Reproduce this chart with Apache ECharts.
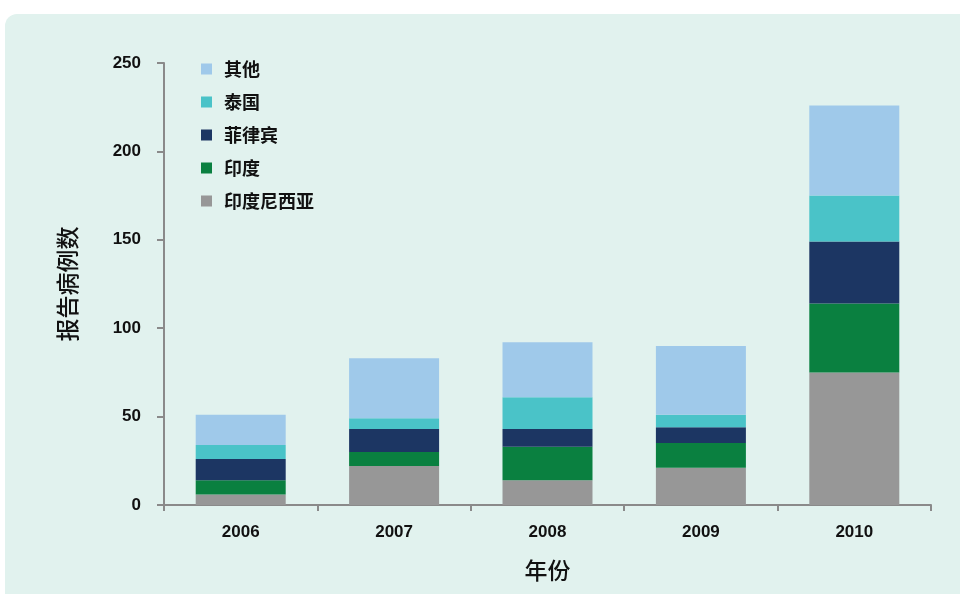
<!DOCTYPE html>
<html>
<head>
<meta charset="utf-8">
<script src="https://cdn.jsdelivr.net/npm/echarts@6/dist/echarts.min.js"></script>
<style>
html,body{margin:0;padding:0;background:#ffffff;}
#chart{width:960px;height:594px;}
</style>
</head>
<body>
<div id="chart"></div>
<script>
var categories = ['2006', '2007', '2008', '2009', '2010'];
var indonesia = [6, 22, 14, 21, 75];
var india = [8, 8, 19, 14, 39];
var philippines = [12, 13, 10, 9, 35];
var thailand = [8, 6, 18, 7, 26];
var others = [17, 34, 31, 39, 51];
var yTicks = [0, 50, 100, 150, 200, 250];

var cjk = '"Noto Sans CJK SC", "Liberation Sans", sans-serif';
var num = '"Liberation Sans", Arial, sans-serif';

var chart = echarts.init(document.getElementById('chart'), null, {renderer: 'canvas'});

function mk(name, data, color) {
  return {
    name: name, type: 'bar', stack: 'total', data: data,
    barWidth: 90,
    itemStyle: {color: color},
    emphasis: {disabled: true}
  };
}

chart.setOption({
  animation: false,
  backgroundColor: '#ffffff',
  graphic: [{
    type: 'rect', z: -10, silent: true,
    shape: {x: 5, y: 14, width: 960, height: 600, r: [12, 0, 0, 0]},
    style: {fill: '#e1f2ee'}
  }],
  grid: {left: 164, right: 29, top: 63, bottom: 89, containLabel: false},
  legend: {
    orient: 'vertical', left: 196, top: 55,
    data: ['其他', '泰国', '菲律宾', '印度', '印度尼西亚'],
    icon: 'rect', itemWidth: 11, itemHeight: 11, itemGap: 15,
    textStyle: {fontFamily: cjk, fontSize: 18, fontWeight: 'bold', color: '#111', lineHeight: 18, padding: [0, 0, 0, 7]},
    selectedMode: false
  },
  xAxis: {
    type: 'category', data: categories,
    name: '年份', nameLocation: 'middle', nameGap: 54,
    nameTextStyle: {fontFamily: cjk, fontSize: 23, fontWeight: 500, color: '#111'},
    axisLine: {lineStyle: {color: '#8a8a8a', width: 2}},
    axisTick: {show: true, length: 6, lineStyle: {color: '#8a8a8a', width: 2}},
    axisLabel: {fontFamily: num, fontSize: 17, fontWeight: 'bold', color: '#111', margin: 19}
  },
  yAxis: {
    type: 'value', min: 0, max: 250, interval: 50,
    name: '报告病例数', nameLocation: 'middle', nameGap: 85, nameRotate: 90,
    nameTextStyle: {fontFamily: cjk, fontSize: 23, fontWeight: 500, color: '#111'},
    axisLine: {show: true, lineStyle: {color: '#8a8a8a', width: 2}},
    axisTick: {show: true, length: 7, lineStyle: {color: '#8a8a8a', width: 2}},
    splitLine: {show: false},
    axisLabel: {
      fontFamily: num, fontSize: 17, fontWeight: 'bold', color: '#111', margin: 23,
      formatter: function (v) { return yTicks.indexOf(v) >= 0 ? String(v) : ''; }
    }
  },
  series: [
    mk('印度尼西亚', indonesia, '#979797'),
    mk('印度', india, '#0a8040'),
    mk('菲律宾', philippines, '#1c3663'),
    mk('泰国', thailand, '#4ac3c8'),
    mk('其他', others, '#9fc9ea')
  ]
});
</script>
</body>
</html>
